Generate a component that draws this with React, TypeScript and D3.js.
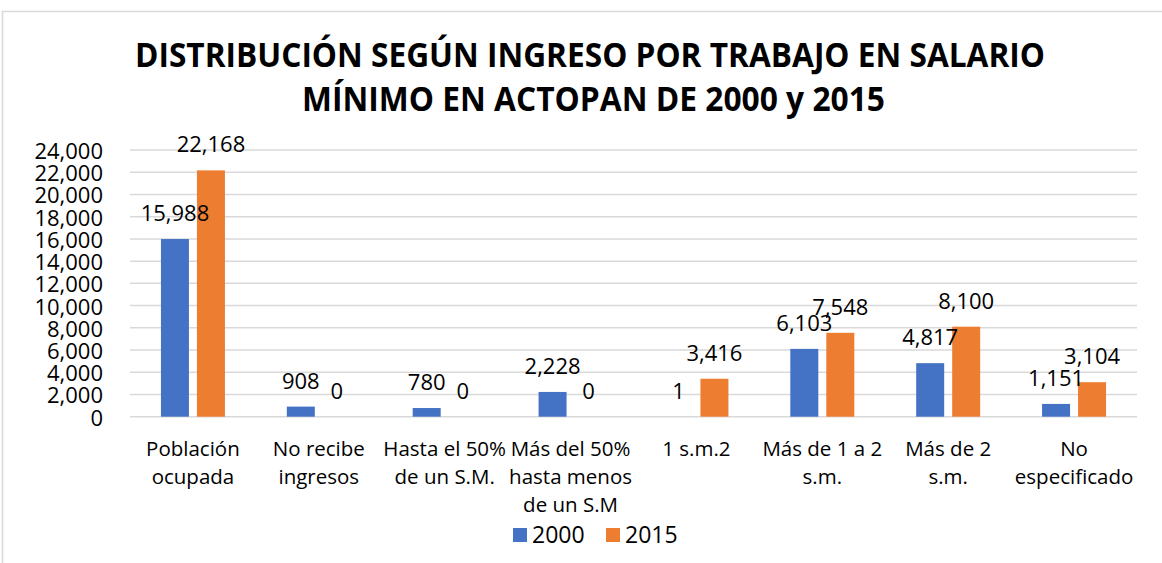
import React from "react";
import * as d3 from "d3";

const categories: string[][] = [
  ["Población", "ocupada"],
  ["No recibe", "ingresos"],
  ["Hasta el 50%", "de un S.M."],
  ["Más del 50%", "hasta menos", "de un S.M"],
  ["1 s.m.2"],
  ["Más de 1 a 2", "s.m."],
  ["Más de 2", "s.m."],
  ["No", "especificado"],
];
const series2000 = [15988, 908, 780, 2228, 1, 6103, 4817, 1151];
const series2015 = [22168, 0, 0, 0, 3416, 7548, 8100, 3104];
const seriesNames = ["2000", "2015"];
const seriesColors = ["#4472C4", "#ED7D31"];
const yTicks = [0, 2000, 4000, 6000, 8000, 10000, 12000, 14000, 16000, 18000, 20000, 22000, 24000];
const titleLines = [
  "DISTRIBUCIÓN SEGÚN INGRESO POR TRABAJO EN SALARIO",
  "MÍNIMO EN ACTOPAN DE 2000 y 2015",
];

const W = 1162;
const H = 563;
const plotLeft = 130;
const plotRight = 1137;
const plotTop = 150;
const plotBottom = 416.7;
const FONT = "'Open Sans', 'DejaVu Sans', sans-serif";

export default function App() {
  const idx = categories.map((_, i) => String(i));
  const x0 = d3.scaleBand<string>().domain(idx).range([plotLeft, plotRight]).paddingInner(0).paddingOuter(0);
  const bw = x0.bandwidth();
  const barW = 28;
  const gap = 8;
  const groupW = barW * 2 + gap;
  const y = d3.scaleLinear().domain([0, 24000]).range([plotBottom, plotTop]);
  const fmt = d3.format(",");
  const allSeries = [series2000, series2015];
  const barX = (i: number, k: number) => x0(String(i))! + (bw - groupW) / 2 + k * (barW + gap);

  return (
    <svg
      width={W}
      height={H}
      style={{ position: "absolute", left: 0, top: 0, display: "block", background: "#fff" }}
      fontFamily={FONT}
    >
      <rect x={2.5} y={11.5} width={W + 10} height={H + 10} fill="#fff" stroke="#D9D9D9" strokeWidth={1.5} />
      {titleLines.map((t, i) => (
        <text
          key={i}
          x={i === 0 ? 135 : 302}
          y={i === 0 ? 67 : 111}
          fontSize={34}
          fontWeight="bold"
          fill="#000"
          textLength={i === 0 ? 910 : 583}
          lengthAdjust="spacingAndGlyphs"
        >
          {t}
        </text>
      ))}
      {yTicks.map((t) => (
        <g key={t}>
          <line x1={plotLeft} x2={plotRight} y1={y(t)} y2={y(t)} stroke="#D9D9D9" strokeWidth={1.5} />
          <text x={103} y={y(t)} textAnchor="end" dominantBaseline="central" fontSize={22} fill="#000">
            {fmt(t)}
          </text>
        </g>
      ))}
      {categories.map((c, i) => (
        <g key={i}>
          {allSeries.map((s, k) => {
            const top = y(s[i]);
            return <rect key={k} x={barX(i, k)} y={top} width={barW} height={plotBottom - top} fill={seriesColors[k]} />;
          })}
        </g>
      ))}
      {categories.map((c, i) => (
        <g key={i}>
          {allSeries.map((s, k) => (
            <text key={k} x={barX(i, k) + barW / 2} y={y(s[i]) - 18} textAnchor="middle" fontSize={22} fill="#000">
              {fmt(s[i])}
            </text>
          ))}
          {c.map((line, j) => (
            <text
              key={j}
              x={x0(String(i))! + bw / 2}
              y={456 + j * 28}
              textAnchor="middle"
              fontSize={20.5}
              fill="#000"
            >
              {line}
            </text>
          ))}
        </g>
      ))}
      {seriesNames.map((n, k) => (
        <g key={n}>
          <rect x={513 + k * 93} y={528} width={14} height={14} fill={seriesColors[k]} />
          <text x={532 + k * 93} y={543} fontSize={23} fill="#000">
            {n}
          </text>
        </g>
      ))}
    </svg>
  );
}
